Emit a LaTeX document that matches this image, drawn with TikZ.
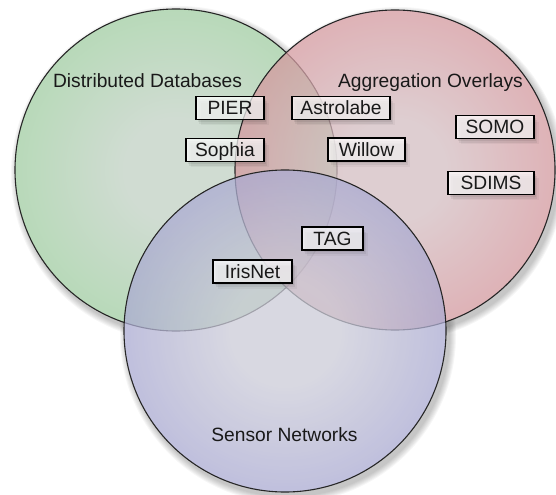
\documentclass[tikz,border=0pt]{standalone}
\usepackage{fontspec}
\setmainfont{Liberation Sans}
\usetikzlibrary{calc}

% circle colours (outer rim / lighter centre)
\definecolor{gOut}{RGB}{156,214,156}
\definecolor{gIn}{RGB}{208,220,210}
\definecolor{rOut}{RGB}{211,110,118}
\definecolor{rIn}{RGB}{212,190,194}
\definecolor{bOut}{RGB}{132,132,202}
\definecolor{bIn}{RGB}{204,204,216}

\pgfdeclareradialshading{vennGreen}{\pgfpoint{0bp}{0bp}}{color(0bp)=(gIn); color(8bp)=(gIn); color(30bp)=(gIn!40!gOut); color(50bp)=(gOut)}
\pgfdeclareradialshading{vennRed}{\pgfpoint{0bp}{0bp}}{color(0bp)=(rIn); color(8bp)=(rIn); color(30bp)=(rIn!40!rOut); color(50bp)=(rOut)}
\pgfdeclareradialshading{vennBlue}{\pgfpoint{0bp}{0bp}}{color(0bp)=(bIn); color(8bp)=(bIn); color(30bp)=(bIn!40!bOut); color(50bp)=(bOut)}

\tikzset{
  rim/.style={draw=black!85, line width=1.1bp},
  setlabel/.style={anchor=base, text=black!90},
  tagbox/.style={draw=black, line width=1.2bp, fill=white, fill opacity=0.7, text opacity=1,
    text=black!90, text height=13.8bp, text depth=0.5bp, inner xsep=0pt, inner ysep=4.3bp,
    align=center,
    preaction={fill=black, fill opacity=0.07, draw=none, transform canvas={xshift=1.5bp, yshift=-2.5bp}},
    preaction={fill=black, fill opacity=0.06, draw=none, transform canvas={xshift=3bp, yshift=-4.5bp}},
    preaction={fill=black, fill opacity=0.04, draw=none, transform canvas={xshift=4.5bp, yshift=-6bp}}},
}

\begin{document}
\begin{tikzpicture}[x=1bp, y=-1bp, font=\fontsize{19.2bp}{23bp}\selectfont]
\useasboundingbox (0,0) rectangle (556,495);

% circle centres
\coordinate (cG) at (176,170);
\coordinate (cR) at (395,170);
\coordinate (cB) at (285,331);

% soft shadows of the three circles
\foreach \k in {0,...,6} {
  \fill[black, opacity=0.035] ($(cG)+(3,4)$) circle ({161+7-\k});
  \fill[black, opacity=0.035] ($(cR)+(3,4)$) circle ({160+7-\k});
  \fill[black, opacity=0.035] ($(cB)+(3,4)$) circle ({161+7-\k});
}
% hide the shadows beneath the discs
\fill[white] (cG) circle (161) (cR) circle (160) (cB) circle (161);

% the three sets
\shade[shading=vennGreen] (cG) circle (161);
\draw[rim] (cG) circle (161);
\shade[shading=vennRed, fill opacity=0.75] (cR) circle (160);
\draw[rim] (cR) circle (160);
\shade[shading=vennBlue, fill opacity=0.75] (cB) circle (161);
\draw[rim] (cB) circle (161);

% set names
\node[setlabel] (dd) at (147.5,88) {Distributed Databases};
\node[setlabel] (ao) at (430.5,88) {Aggregation Overlays};
\node[setlabel] (sn) at (284.5,441) {Sensor Networks};

% systems
\node[tagbox, minimum width=68bp] (pier)  at (230,108)   {PIER};
\node[tagbox, minimum width=78bp] (soph)  at (225,150)   {Sophia};
\node[tagbox, minimum width=98bp] (astro) at (341,108)   {Astrolabe};
\node[tagbox, minimum width=77bp] (will)  at (366.5,149.5) {Willow};
\node[tagbox, minimum width=78bp] (somo)  at (495,127)   {SOMO};
\node[tagbox, minimum width=86bp] (sdims) at (491,183)   {SDIMS};
\node[tagbox, minimum width=61bp] (tag)   at (332.5,238.5) {TAG};
\node[tagbox, minimum width=79bp] (iris)  at (252.5,271.5) {IrisNet};
\end{tikzpicture}
\end{document}
